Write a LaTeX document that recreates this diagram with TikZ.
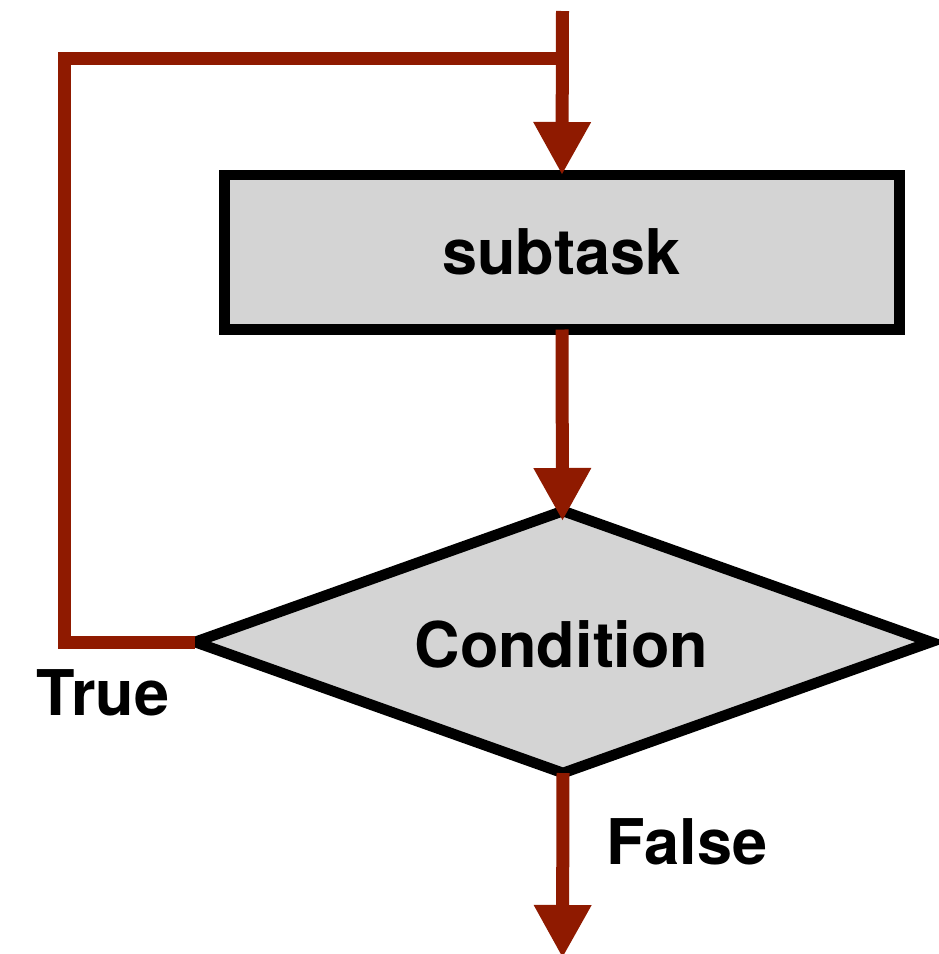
\documentclass[tikz,border=0pt]{standalone}
\usepackage{fontspec}
\setmainfont{TeX Gyre Heros}
\usetikzlibrary{shapes.geometric,arrows.meta}
\definecolor{flowred}{RGB}{143,26,0}
\definecolor{boxgray}{RGB}{212,212,212}
\tikzset{
  px/.style={x=0.5pt,y=-0.5pt},
  flow/.style={draw=flowred,line width=6.5pt},
  flowarrow/.style={flow,-{Triangle[width=27pt,length=26.5pt]}},
  box/.style={draw=black,fill=boxgray,line width=5.3pt,inner sep=0pt,outer sep=0pt},
  lbl/.style={font=\fontsize{31.5pt}{36pt}\selectfont\bfseries,inner sep=0pt,anchor=base}
}
\begin{document}
\begin{tikzpicture}[px]
\useasboundingbox (0,0) rectangle (938,954);
\node[box,rectangle,minimum width=337.5pt,minimum height=77.25pt] (sub) at (562,252.25) {};
\node[box,diamond,minimum width=368pt,minimum height=131pt] (cond) at (563,642) {};
\node[lbl] (subt) at (561.5,274) {subtask};
\node[lbl] (condt) at (561.5,667) {Condition};
\node[lbl] (truel) at (103,715) {True};
\node[lbl] (falsel) at (687,864) {False};
\coordinate (start) at (562.5,11);
\coordinate (tl) at (64.5,58);
\coordinate (bl) at (64.5,642);
\coordinate (j) at (562.5,58);
\coordinate (condtip) at (562.5,521);
\coordinate (end) at (562.5,958);
\draw[flow] (cond.west) -- (bl) -- (tl) -- (j);
\draw[flowarrow] (start) -- (sub.north);
\draw[flowarrow] (sub.south) -- (condtip);
\draw[flowarrow] (cond.south) -- (end);
\end{tikzpicture}
\end{document}
